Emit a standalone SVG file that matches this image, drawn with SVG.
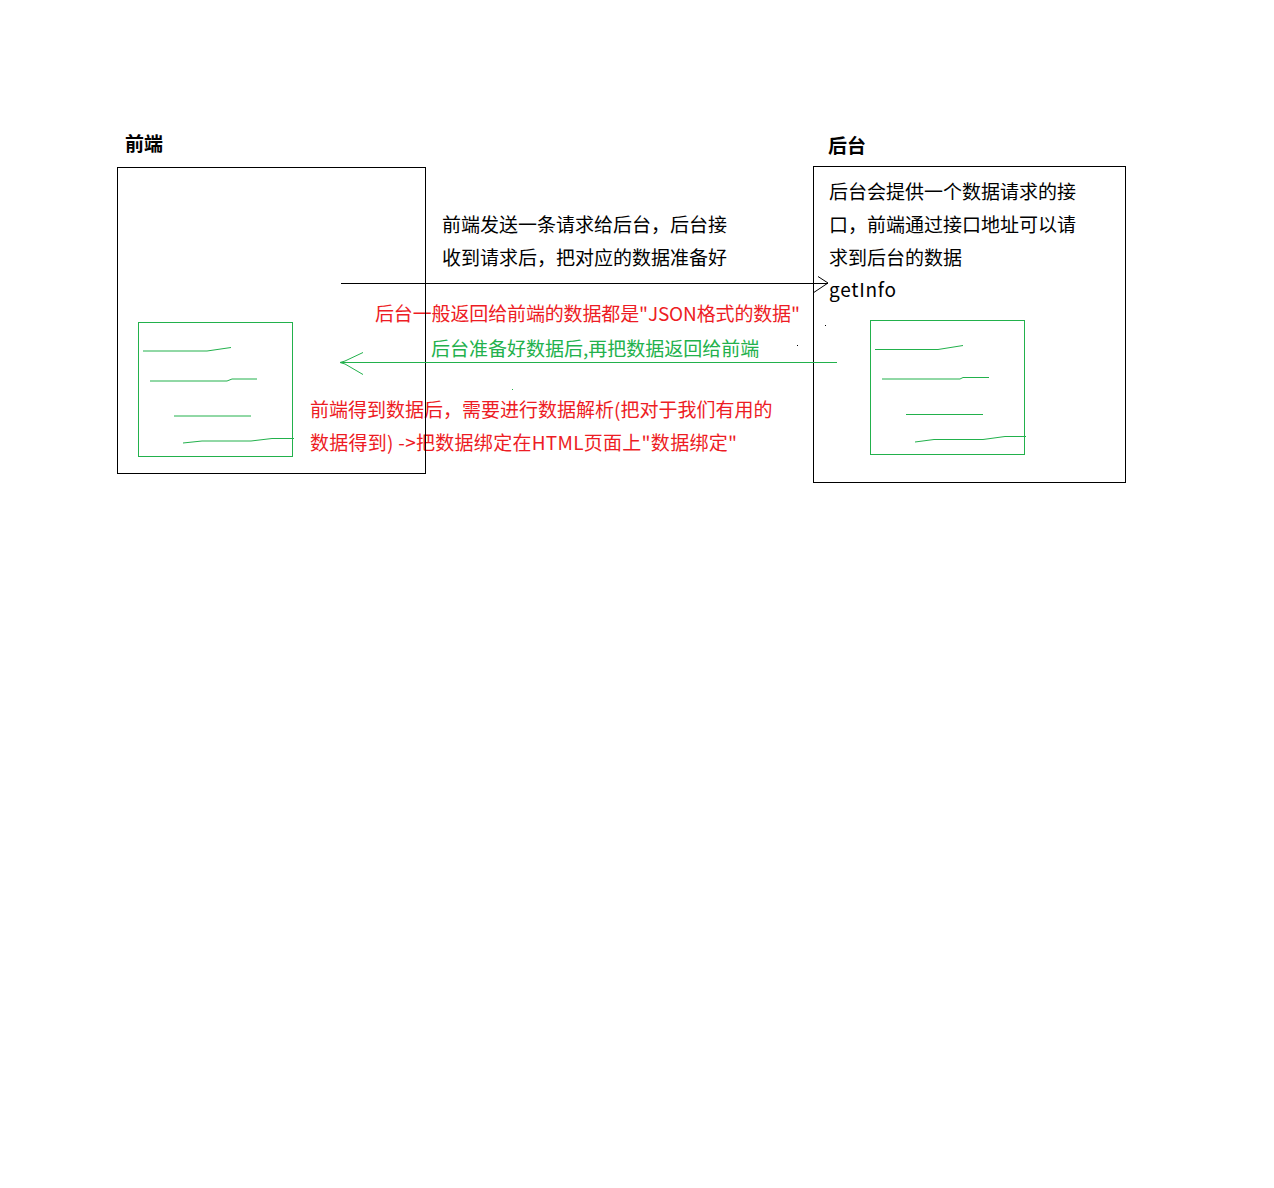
<svg xmlns="http://www.w3.org/2000/svg" width="1274" height="1188" viewBox="0 0 1274 1188">
<style>
.box{fill:none;stroke:#000;stroke-width:1}
.gbox{fill:none;stroke:#22b14c;stroke-width:1}
.gl{fill:none;stroke:#22b14c;stroke-width:1}
.t{font-family:"Microsoft YaHei","Noto Sans CJK SC","Noto Sans",sans-serif;font-size:19px}
.title{font-weight:bold}
.blk{fill:#000}
.red{fill:#ed1c24}
.grn{fill:#22b14c}
</style>
<rect x="0" y="0" width="1274" height="1188" fill="#fff"/>
<g id="labels">
<text class="t blk" x="442" y="232">前端发送一条请求给后台，后台接</text>
<text class="t blk" x="442" y="265">收到请求后，把对应的数据准备好</text>
<text class="t red" x="375" y="321" textLength="425" lengthAdjust="spacing">后台一般返回给前端的数据都是"JSON格式的数据"</text>
<text class="t grn" x="431" y="356">后台准备好数据后,再把数据返回给前端</text>
<text class="t red" x="310" y="417">前端得到数据后，需要进行数据解析(把对于我们有用的</text>
<text class="t red" x="310" y="450" textLength="427" lengthAdjust="spacing">数据得到) -&gt;把数据绑定在HTML页面上"数据绑定"</text>
</g>
<g id="node-frontend">
<text class="t title blk" x="125" y="151">前端</text>
<rect class="box" x="117.5" y="167.5" width="308" height="306"/>
<rect class="gbox" x="138.5" y="322.5" width="154" height="134"/>
<polyline class="gl" points="143,351 207,351 231,347.5"/>
<polyline class="gl" points="150,381 227,381 232,379 257,379"/>
<polyline class="gl" points="174,416 251,416"/>
<polyline class="gl" points="183,443 202,441 251,441 272,438.5 294,438.5"/>
</g>
<g id="node-backend">
<text class="t title blk" x="828" y="153">后台</text>
<rect class="box" x="813.5" y="166.5" width="312" height="316"/>
<text class="t blk" x="829" y="199">后台会提供一个数据请求的接</text>
<text class="t blk" x="829" y="232">口，前端通过接口地址可以请</text>
<text class="t blk" x="829" y="265">求到后台的数据</text>
<text class="t blk" x="829" y="297" textLength="67" lengthAdjust="spacing">getInfo</text>
<rect class="gbox" x="870.5" y="320.5" width="154" height="134"/>
<polyline class="gl" points="875,349.5 938,349.5 963,345.5"/>
<polyline class="gl" points="882,379 960,379 963,377.5 989,377.5"/>
<polyline class="gl" points="906,414.5 983,414.5"/>
<polyline class="gl" points="915,442 934,439.5 983,439.5 1005,436.5 1026,436.5"/>
</g>
<g id="connectors">
<line x1="341" y1="283.5" x2="828" y2="283.5" stroke="#000" stroke-width="1"/>
<polyline points="818,276.5 828,283 813,293" fill="none" stroke="#000" stroke-width="1"/>
<line x1="341" y1="362.5" x2="837" y2="362.5" stroke="#22b14c" stroke-width="1"/>
<polyline points="363,352.5 345,361 340,362.5 345,364 363,374.5" fill="none" stroke="#22b14c" stroke-width="1"/>
</g>
<g id="specks">
<rect x="825" y="325" width="1" height="1" fill="#000"/>
<rect x="797" y="345" width="1" height="1" fill="#000"/>
<rect x="512" y="389" width="1" height="1" fill="#22b14c"/>
</g>
</svg>
